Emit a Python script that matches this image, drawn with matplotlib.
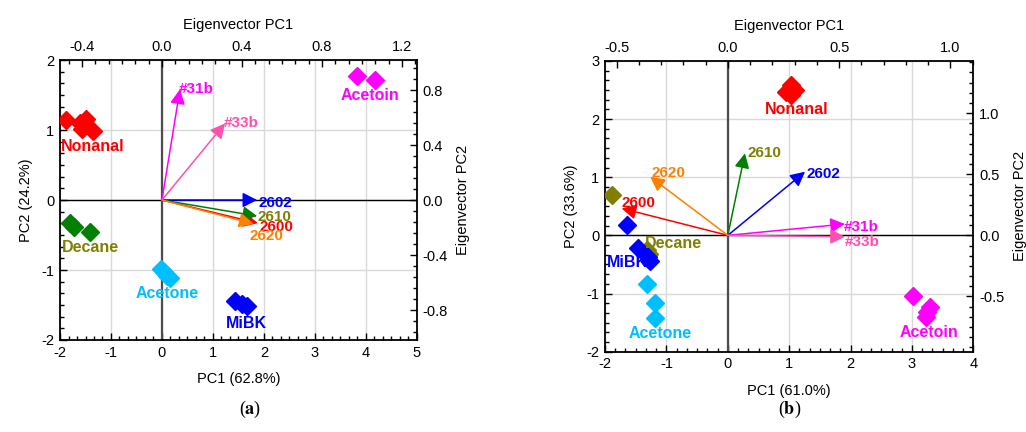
import numpy as np
import matplotlib
matplotlib.use('Agg')
import matplotlib.pyplot as plt
from matplotlib.ticker import AutoMinorLocator, MultipleLocator

plt.rcParams['font.family'] = ['Liberation Sans', 'DejaVu Sans']
plt.rcParams['mathtext.fontset'] = 'stix'
plt.rcParams['axes.unicode_minus'] = False

# ---- panel (a): scores ----
groups = ['Nonanal', 'Acetoin', 'Decane', 'Acetone', 'MiBK']
a_pc1 = {
    'Nonanal': [-1.89, -1.61, -1.57, -1.49, -1.35],
    'Acetoin': [3.82, 4.18],
    'Decane': [-1.80, -1.72, -1.42],
    'Acetone': [-0.02, 0.04, 0.10, 0.15],
    'MiBK': [1.43, 1.57, 1.66],
}
a_pc2 = {
    'Nonanal': [1.15, 1.10, 1.02, 1.16, 0.98],
    'Acetoin': [1.77, 1.71],
    'Decane': [-0.33, -0.38, -0.46],
    'Acetone': [-0.99, -1.03, -1.08, -1.12],
    'MiBK': [-1.45, -1.49, -1.52],
}
# ---- panel (a): loadings ----
sensors = ['2600', '2602', '2610', '2620', '#31b', '#33b']
a_load1 = [0.479, 0.476, 0.476, 0.458, 0.090, 0.315]
a_load2 = [-0.168, 0.000, -0.117, -0.173, 0.805, 0.557]

# ---- panel (b): scores ----
b_pc1 = {
    'Nonanal': [0.94, 1.03, 1.09, 1.03],
    'Acetoin': [3.01, 3.29, 3.23, 3.25],
    'Decane': [-1.88, -1.31, -1.28],
    'Acetone': [-1.32, -1.18, -1.19],
    'MiBK': [-1.64, -1.46, -1.30, -1.27],
}
b_pc2 = {
    'Nonanal': [2.47, 2.59, 2.50, 2.41],
    'Acetoin': [-1.05, -1.23, -1.41, -1.32],
    'Decane': [0.69, -0.25, -0.32],
    'Acetone': [-0.84, -1.17, -1.42],
    'MiBK': [0.17, -0.21, -0.38, -0.44],
}
# ---- panel (b): loadings ----
b_load1 = [-0.477, 0.347, 0.077, -0.349, 0.526, 0.526]
b_load2 = [0.221, 0.521, 0.671, 0.480, 0.093, -0.011]

# colours
label_col = {'Nonanal': '#ff0000', 'Acetoin': '#ff00ff', 'Decane': '#808000',
             'Acetone': '#00bfff', 'MiBK': '#0000ff'}
arrow_col = {'2600': '#ff0000', '2602': '#0000ff', '2610': '#008000',
             '2620': '#ff8000', '#31b': '#ff00ff', '#33b': '#ff4fb0'}
text_col = dict(arrow_col, **{'2610': '#808000'})

# text anchors (data units of the score axes) and label nudges (points)
a_glabel = {'Nonanal': (-1.36, 0.76), 'Acetoin': (4.08, 1.49), 'Decane': (-1.41, -0.68),
            'Acetone': (0.11, -1.33), 'MiBK': (1.66, -1.76)}
b_glabel = {'Nonanal': (1.12, 2.17), 'Acetoin': (3.27, -1.67), 'Decane': (-0.88, -0.14),
            'Acetone': (-1.10, -1.69), 'MiBK': (-1.63, -0.46)}
a_nudge = {'2600': (1, -3), '2602': (1, -2), '2610': (0, -1), '2620': (-3, -9),
           '#31b': (-1, 0), '#33b': (-1, 0)}
b_nudge = {'2600': (0, 4), '2602': (1, -2), '2610': (2, 0), '2620': (1, 3),
           '#31b': (-1, -2), '#33b': (0, -4)}


def panel(rect, pc1, pc2, load1, load2, xlim, ylim, ex, ey, eticks, glab, nudge,
          decane_col, xlab, ylab, tag, tag_x):
    ax = fig.add_axes(rect)
    ax.set_xlim(*xlim)
    ax.set_ylim(*ylim)
    ax.xaxis.set_major_locator(MultipleLocator(1))
    ax.yaxis.set_major_locator(MultipleLocator(1))
    ax.xaxis.set_minor_locator(AutoMinorLocator(6))
    ax.yaxis.set_minor_locator(AutoMinorLocator(6))
    ax.grid(True, color='#d9d9d9', lw=1.0)
    ax.set_axisbelow(True)
    ax.axhline(0, color='black', lw=1.0, zorder=1)
    ax.axvline(0, color='#4d4d4d', lw=1.6, zorder=1)
    ax.tick_params(which='both', direction='in', top=False, right=False,
                   labelsize=10.5, width=1.0, pad=4)
    ax.tick_params(which='major', length=5)
    ax.tick_params(which='minor', length=3)
    for s in ax.spines.values():
        s.set_linewidth(1.3)
    ax.set_xlabel(xlab, fontsize=10.5, labelpad=9)
    ax.set_ylabel(ylab, fontsize=10.5, labelpad=6)

    for g in groups:
        c = decane_col if g == 'Decane' else label_col[g]
        ax.plot(pc1[g], pc2[g], ls='none', marker='D', ms=9, color=c,
                mec=c, zorder=3)
        ax.text(*glab[g], g, color=label_col[g], fontsize=11.5, fontweight='bold',
                ha='center', va='center', zorder=4)

    # eigenvector axes on top / right
    ax2 = fig.add_axes(rect)
    ax2.patch.set_visible(False)
    for s in ax2.spines.values():
        s.set_visible(False)
    ax2.set_xlim(*ex)
    ax2.set_ylim(*ey)
    ax2.xaxis.tick_top()
    ax2.yaxis.tick_right()
    ax2.xaxis.set_label_position('top')
    ax2.yaxis.set_label_position('right')
    ax2.xaxis.set_major_locator(MultipleLocator(eticks[0]))
    ax2.yaxis.set_major_locator(MultipleLocator(eticks[1]))
    ax2.xaxis.set_minor_locator(AutoMinorLocator(eticks[2]))
    ax2.yaxis.set_minor_locator(AutoMinorLocator(eticks[3]))
    ax2.xaxis.set_major_formatter(lambda v, p: f'{v:.1f}')
    ax2.yaxis.set_major_formatter(lambda v, p: f'{v:.1f}')
    ax2.tick_params(which='both', direction='in', labelsize=10.5, width=1.0, pad=4)
    ax2.tick_params(which='major', length=5)
    ax2.tick_params(which='minor', length=3)
    ax2.set_xlabel('Eigenvector PC1', fontsize=10.5, labelpad=8)
    ax2.set_ylabel('Eigenvector PC2', fontsize=10.5, labelpad=6)

    for name, lx, ly in zip(sensors, load1, load2):
        ax2.annotate('', xy=(lx, ly), xytext=(0, 0),
                     arrowprops=dict(arrowstyle='-|>,head_length=0.55,head_width=0.28',
                                     color=arrow_col[name], lw=1.1,
                                     mutation_scale=16, shrinkA=0, shrinkB=0),
                     zorder=5)
        ax2.annotate(name, xy=(lx, ly), xytext=nudge[name], textcoords='offset points',
                     color=text_col[name], fontsize=11, fontweight='bold',
                     ha='left', va='center', zorder=6)

    fig.text(tag_x, 0.028, '(' + r'$\mathbf{' + tag + '}$' + ')',
             fontsize=13, family='Liberation Serif', ha='center', va='bottom')
    return ax


fig = plt.figure(figsize=(10.26, 4.32), dpi=100)

panel([0.0585, 0.213, 0.3477, 0.648], a_pc1, a_pc2, a_load1, a_load2,
      (-2, 5), (-2, 2), (-0.5094, 1.2735), (-1.018, 1.018), (0.4, 0.4, 6, 5),
      a_glabel, a_nudge, '#008000', 'PC1 (62.8%)', 'PC2 (24.2%)', 'a', 0.2437)
panel([0.5897, 0.186, 0.359, 0.673], b_pc1, b_pc2, b_load1, b_load2,
      (-2, 4), (-2, 3), (-0.5516, 1.1032), (-0.952, 1.428), (0.5, 0.5, 5, 6),
      b_glabel, b_nudge, '#808000', 'PC1 (61.0%)', 'PC2 (33.6%)', 'b', 0.770)

fig.savefig('out.png', dpi=100)
